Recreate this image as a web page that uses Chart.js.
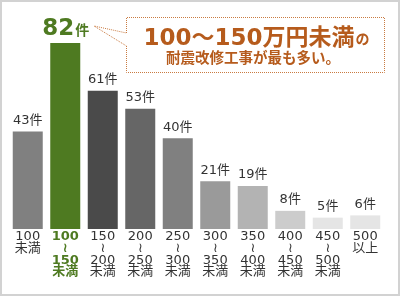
<!DOCTYPE html>
<html>
<head>
<meta charset="utf-8">
<script src="https://cdn.jsdelivr.net/npm/chart.js@4/dist/chart.umd.min.js"></script>
<style>
  body { margin: 0; background: #fff; }
  #wrap { position: relative; width: 400px; height: 297px; }
  #frame { position: absolute; left: 0; top: 0; width: 396px; height: 292px; border: 2px solid #d2d2d2; pointer-events: none; }
  canvas { position: absolute; left: 0; top: 0; }
</style>
</head>
<body>
<div id="wrap">
  <canvas id="chart" width="400" height="297"></canvas>
  <div id="frame"></div>
</div>
<script>
const categories = [
    ['100', '未満'],
    ['100', '≀', '150', '未満'],
    ['150', '≀', '200', '未満'],
    ['200', '≀', '250', '未満'],
    ['250', '≀', '300', '未満'],
    ['300', '≀', '350', '未満'],
    ['350', '≀', '400', '未満'],
    ['400', '≀', '450', '未満'],
    ['450', '≀', '500', '未満'],
    ['500', '以上']
];
const counts = [43, 82, 61, 53, 40, 21, 19, 8, 5, 6];
const unit = '件';
const barColors = ['#808080', '#4e7a21', '#4a4a4a', '#666666', '#808080',
                   '#9a9a9a', '#b3b3b3', '#cccccc', '#e5e5e5', '#e5e5e5'];
const highlight = 1;

const GREEN = '#4e7a21';
const ORANGE = '#b65b1c';
const FONT = "'DejaVu Sans', 'Noto Sans CJK JP', sans-serif";

// 件数ラベル
const valueLabels = {
    id: 'valueLabels',
    afterDatasetsDraw(chart) {
        const ctx = chart.ctx;
        const meta = chart.getDatasetMeta(0);
        ctx.save();
        meta.data.forEach((bar, i) => {
            const v = counts[i];
            if (i === highlight) {
                ctx.fillStyle = GREEN;
                ctx.textBaseline = 'alphabetic';
                ctx.font = 'bold 23px ' + FONT;
                const w1 = ctx.measureText(String(v)).width;
                ctx.font = 'bold 14px ' + FONT;
                const w2 = ctx.measureText(unit).width;
                const x0 = bar.x - (w1 + w2) / 2;
                ctx.textAlign = 'left';
                ctx.font = 'bold 23px ' + FONT;
                ctx.fillText(String(v), x0, bar.y - 8);
                ctx.font = 'bold 14px ' + FONT;
                ctx.fillText(unit, x0 + w1 + 1, bar.y - 8);
            } else {
                ctx.fillStyle = '#333333';
                ctx.textAlign = 'center';
                ctx.textBaseline = 'middle';
                ctx.font = '13px ' + FONT;
                ctx.fillText(v + unit, bar.x, bar.y - 11);
            }
        });
        ctx.restore();
    }
};

// 吹き出し
const callout = {
    id: 'callout',
    afterDraw(chart) {
        const ctx = chart.ctx;
        const L = 126, T = 17, R = 384, B = 72;
        ctx.save();
        ctx.strokeStyle = '#c97b42';
        ctx.lineWidth = 1;
        ctx.setLineDash([1, 1]);
        ctx.beginPath();
        ctx.moveTo(L + 0.5, 46);
        ctx.lineTo(L + 0.5, B + 0.5);
        ctx.lineTo(R + 0.5, B + 0.5);
        ctx.lineTo(R + 0.5, T + 0.5);
        ctx.lineTo(L + 0.5, T + 0.5);
        ctx.lineTo(L + 0.5, 33);
        ctx.lineTo(94, 26);
        ctx.lineTo(L + 0.5, 46);
        ctx.stroke();
        ctx.setLineDash([]);

        ctx.fillStyle = ORANGE;
        ctx.textBaseline = 'alphabetic';
        ctx.textAlign = 'left';
        const main = '100～150万円未満';
        const tail = 'の';
        ctx.font = 'bold 23px ' + FONT;
        const w1 = ctx.measureText(main).width;
        ctx.font = 'bold 14px ' + FONT;
        const w2 = ctx.measureText(tail).width;
        const x0 = 256 - (w1 + w2) / 2;
        ctx.font = 'bold 23px ' + FONT;
        ctx.fillText(main, x0, 45);
        ctx.font = 'bold 14px ' + FONT;
        ctx.fillText(tail, x0 + w1 + 1, 44);
        ctx.textAlign = 'center';
        ctx.font = 'bold 14.5px ' + FONT;
        ctx.fillText('耐震改修工事が最も多い。', 253, 63);
        ctx.restore();
    }
};

new Chart(document.querySelector('#chart').getContext('2d'), {
    type: 'bar',
    data: {
        labels: categories,
        datasets: [{
            data: counts,
            backgroundColor: barColors,
            borderWidth: 0,
            barPercentage: 0.8,
            categoryPercentage: 1.0
        }]
    },
    options: {
        responsive: false,
        animation: false,
        events: [],
        layout: { padding: { left: 9, right: 16, top: 43, bottom: 0 } },
        plugins: {
            legend: { display: false },
            tooltip: { enabled: false }
        },
        scales: {
            x: {
                grid: { display: false, drawTicks: false },
                border: { display: false },
                ticks: {
                    padding: 2,
                    autoSkip: false,
                    maxRotation: 0,
                    color: (c) => c.index === highlight ? GREEN : '#333333',
                    font: (c) => ({
                        family: FONT,
                        size: 13,
                        lineHeight: 0.9,
                        weight: c.index === highlight ? 'bold' : 'normal'
                    })
                },
                afterFit: (s) => { s.height = 68; }
            },
            y: {
                display: false,
                min: 0,
                max: 82
            }
        }
    },
    plugins: [valueLabels, callout]
});
</script>
</body>
</html>
